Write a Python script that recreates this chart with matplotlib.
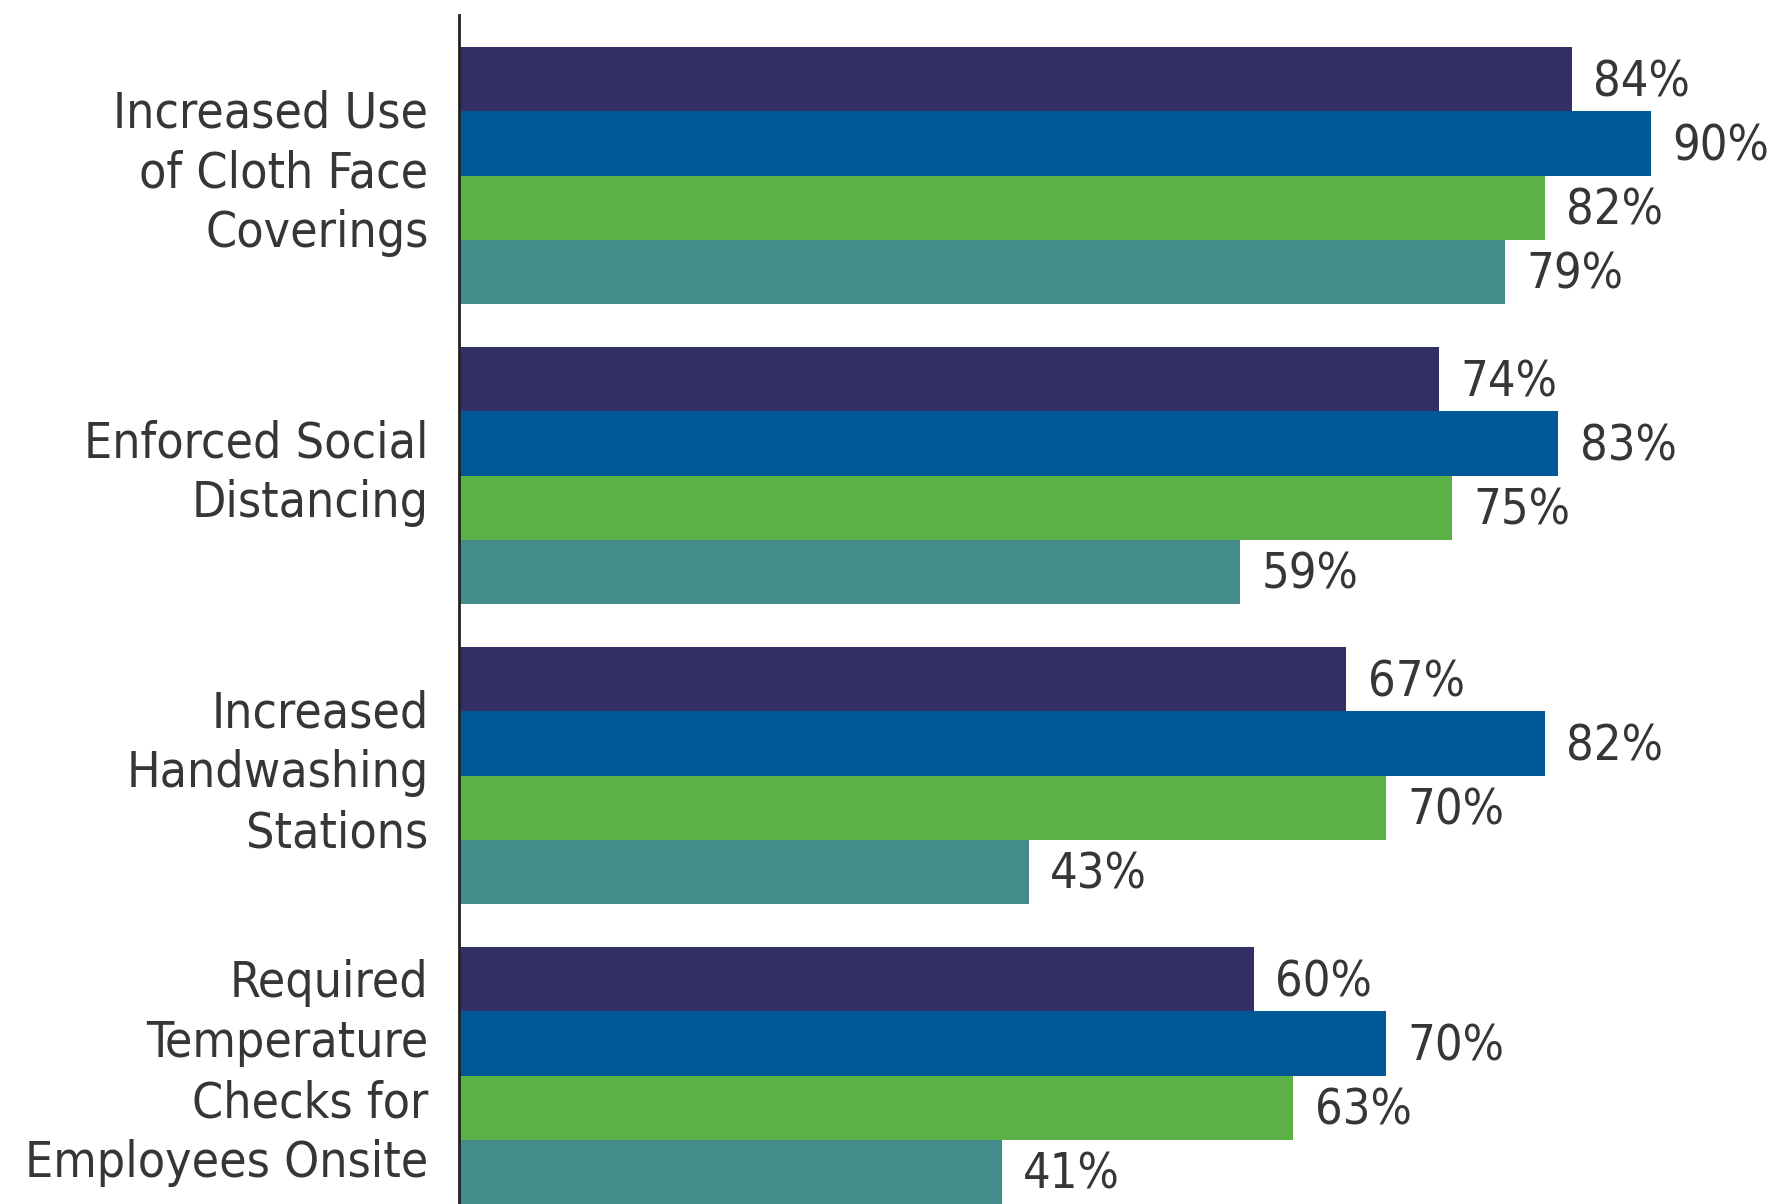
import matplotlib
matplotlib.use("Agg")
import matplotlib.pyplot as plt
import numpy as np

# Data
categories = [
    "Increased Use\nof Cloth Face\nCoverings",
    "Enforced Social\nDistancing",
    "Increased\nHandwashing\nStations",
    "Required\nTemperature\nChecks for\nEmployees Onsite",
]
series_a = [84, 74, 67, 60]   # navy
series_b = [90, 83, 82, 70]   # blue
series_c = [82, 75, 70, 63]   # green
series_d = [79, 59, 43, 41]   # teal

colors = ["#312F66", "#005896", "#5DB247", "#448C8A"]
font = ["DejaVu Sans"]
text_col = "#363636"
DPI = 100

fig = plt.figure(figsize=(17.71, 12.04), dpi=DPI)
renderer = fig.canvas.get_renderer()


def fit_size(s, target_px, start=40):
    # pick a font size so that the string is about target_px wide
    t = fig.text(0, 0, s, fontsize=start, family=font, fontstretch="condensed")
    w = t.get_window_extent(renderer).width
    t.remove()
    return start * target_px / w


cat_size = fit_size("Employees Onsite", 403)
val_size = fit_size("84%", 97)
line_sp = 65.5 / (cat_size * DPI / 72)   # lines ~60 px apart

ax = fig.add_axes([459 / 1771, 0.0, 1298 / 1771, 1 - 15 / 1204])

h = 0.214
y = np.arange(len(categories))
for j, vals in enumerate([series_a, series_b, series_c, series_d]):
    pos = y + (j - 1.5) * h
    ax.barh(pos, vals, height=h, color=colors[j])
    for p, v in zip(pos, vals):
        ax.text(v + 1.6, p + 0.01, f"{v}%", va="center", ha="left",
                fontsize=val_size, color=text_col, family=font,
                fontstretch="condensed")

ax.set_xlim(0, 98)
ax.set_ylim(3 + 0.428, -0.535)

ax.set_yticks(y - 0.045)
ax.set_yticklabels(categories, family=font, fontsize=cat_size, color=text_col,
                   fontstretch="condensed", linespacing=line_sp, ha="right")
ax.tick_params(axis="y", length=0, pad=22)
ax.set_xticks([])

for s in ["top", "right", "bottom"]:
    ax.spines[s].set_visible(False)
ax.spines["left"].set_linewidth(2)
ax.spines["left"].set_color("#222222")

fig.savefig("out.png", dpi=DPI)
